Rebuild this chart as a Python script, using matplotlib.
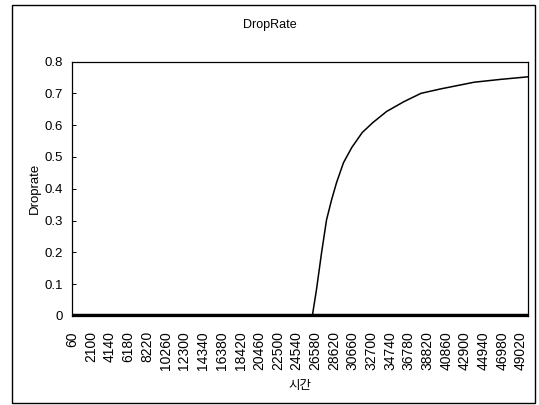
import matplotlib.pyplot as plt
from matplotlib.patches import Rectangle

# time (x) and drop rate (y)
time = [60, 26250, 26700, 27250, 27800, 28350, 28900, 29650, 30560, 31700,
        32850, 34350, 36250, 38100, 40250, 43900, 46800, 49780]
drop_rate = [0, 0, 0.082, 0.197, 0.302, 0.365, 0.420, 0.482, 0.530, 0.577,
             0.608, 0.643, 0.674, 0.700, 0.714, 0.735, 0.744, 0.752]
# second series that stays at zero the whole run
base_time = [60, 49800]
base_rate = [0, 0]

tick_labels = list(range(60, 49800, 2040))
y_ticks = [0, 0.1, 0.2, 0.3, 0.4, 0.5, 0.6, 0.7, 0.8]

plt.rcParams['font.family'] = ['Liberation Sans', 'Noto Sans CJK KR', 'DejaVu Sans']

fig = plt.figure(figsize=(5.39, 4.05), dpi=100)
ax = fig.add_axes([0.134, 0.22, 0.846, 0.628])

ax.plot(base_time, base_rate, color='black', linewidth=3.2, solid_capstyle='butt')
ax.plot(time, drop_rate, color='black', linewidth=1.1)

ax.set_xlim(60, 49800)
ax.set_ylim(0, 0.8)
ax.set_xticks(tick_labels)
ax.set_xticklabels([str(t) for t in tick_labels], rotation=90, fontsize=10)
ax.set_yticks(y_ticks)
ax.set_yticklabels(['0' if v == 0 else '%.1f' % v for v in y_ticks], fontsize=9.5)
ax.tick_params(axis='x', length=0, pad=11)
ax.tick_params(axis='y', direction='in', length=3, width=0.7, pad=7)
for s in ax.spines.values():
    s.set_linewidth(0.9)

ax.set_ylabel('Droprate', fontsize=9.5, labelpad=2)
ax.set_xlabel('시간', fontsize=9, labelpad=6, family=['Noto Sans CJK KR', 'DejaVu Sans'])
fig.text(0.5, 0.938, 'DropRate', ha='center', va='center', fontsize=9)

# outer chart frame
fig.patches.append(Rectangle((0.022, 0.006), 0.971, 0.982, transform=fig.transFigure,
                             fill=False, edgecolor='black', linewidth=1.0))

fig.savefig('out.png', dpi=100)
